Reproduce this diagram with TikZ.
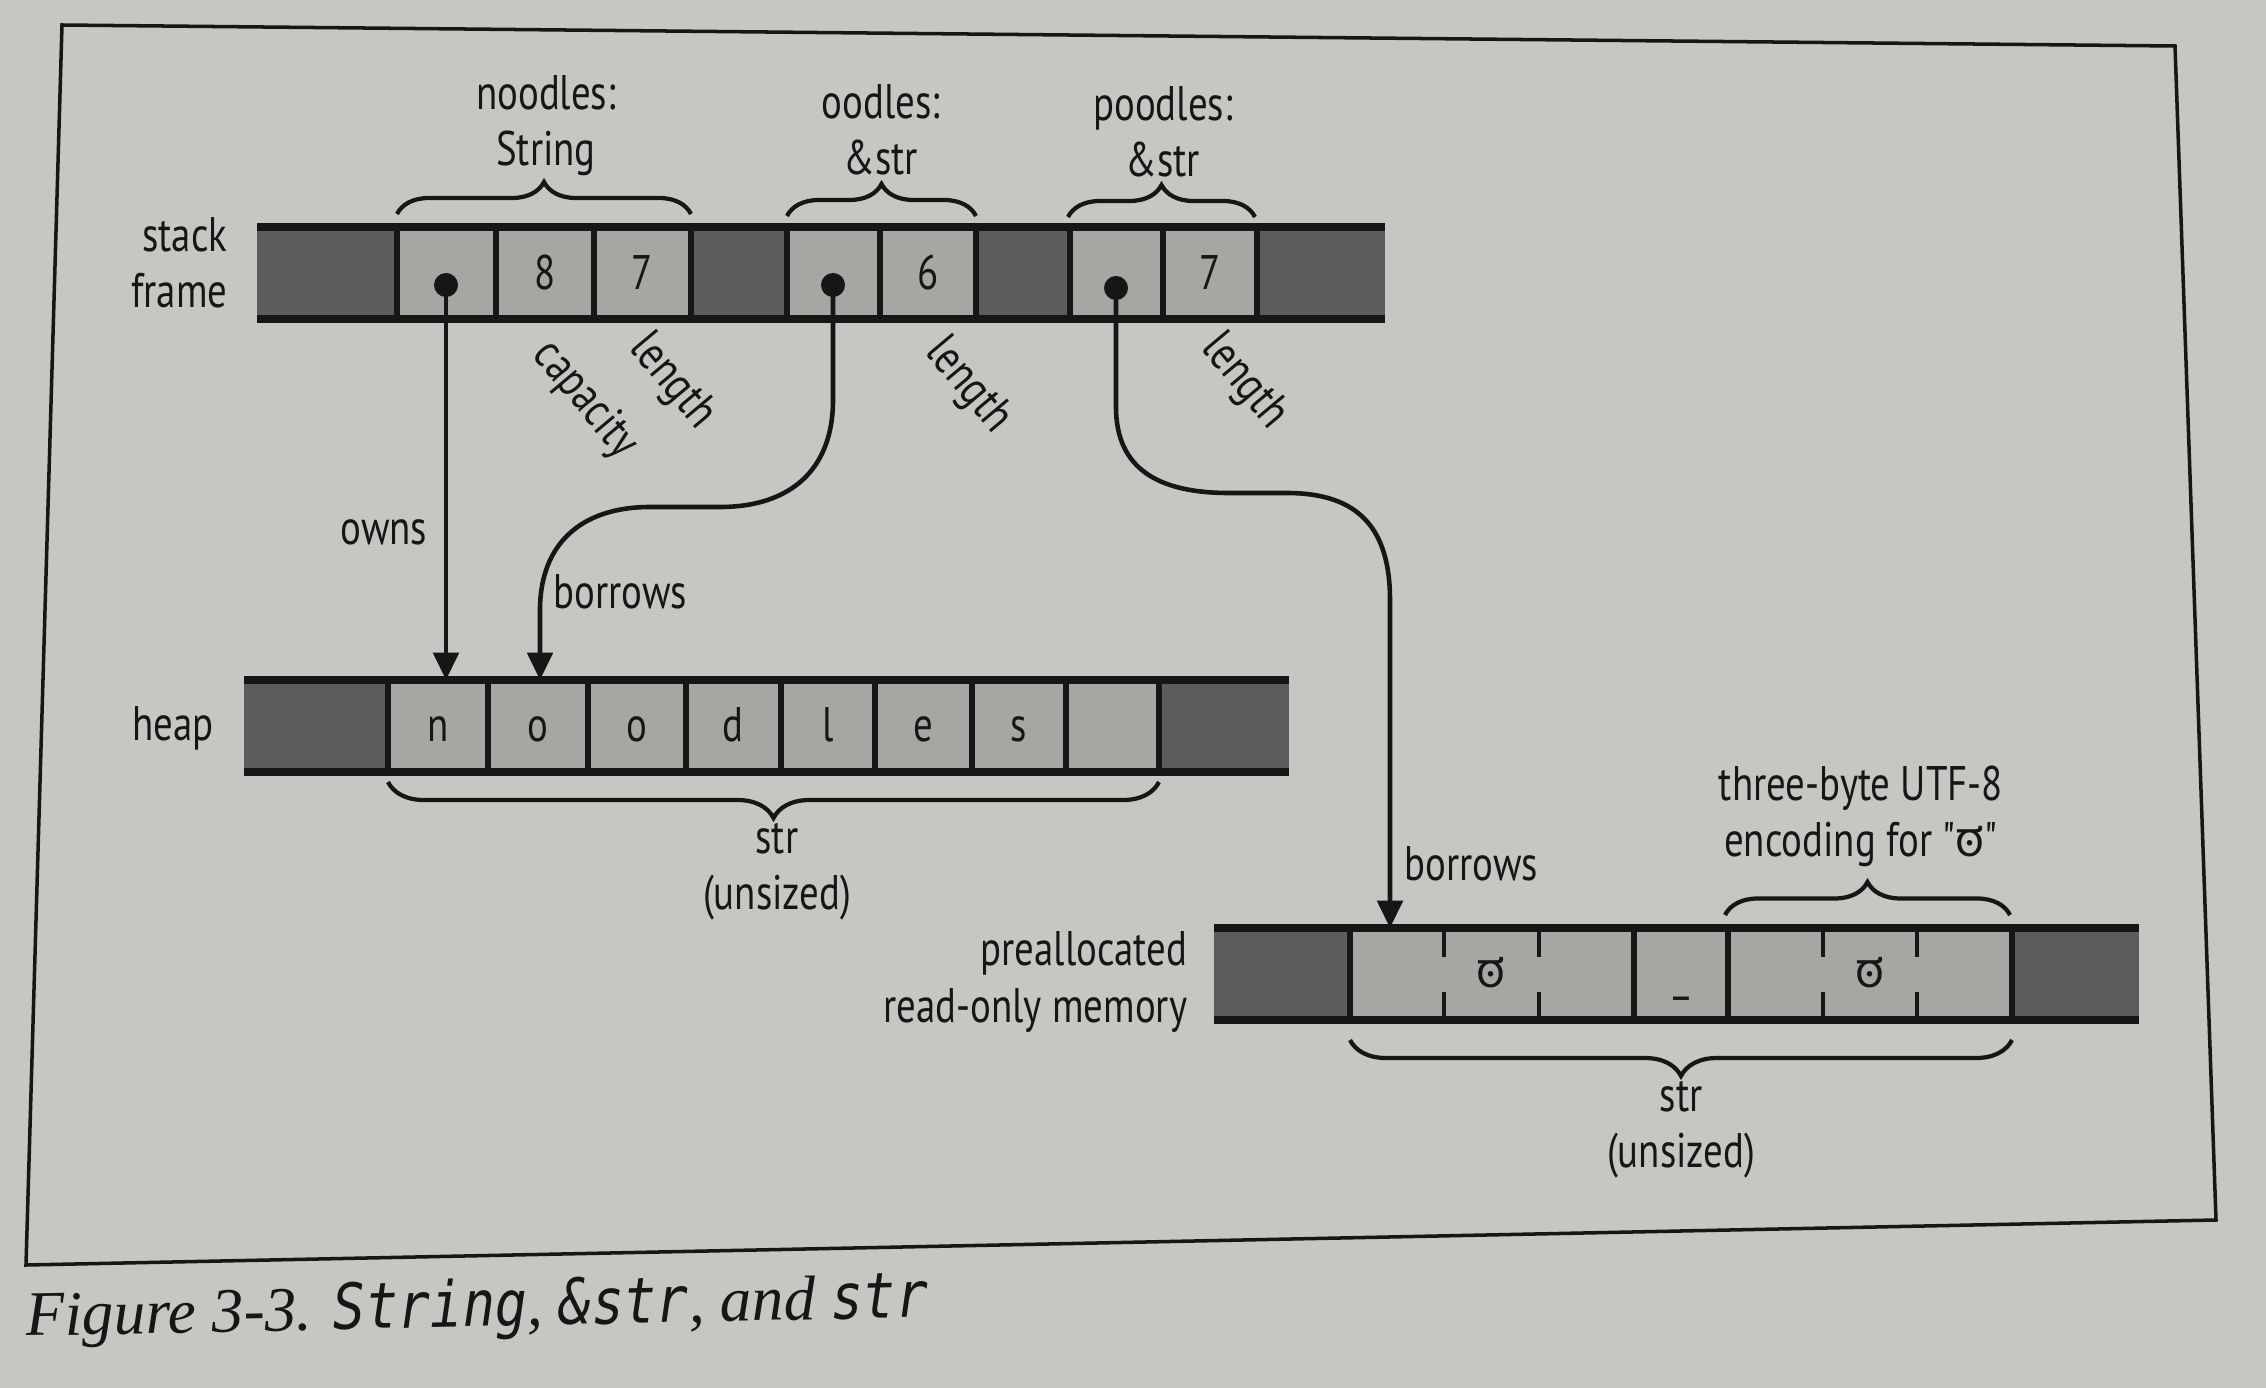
\documentclass[tikz,border=0pt]{standalone}
\usepackage{fontspec}
\setmainfont{PT Sans}[FakeStretch=0.8, Ligatures=TeXOff]
\newfontfamily\kan[Script=Kannada]{Hind Mysuru}
\newfontfamily\capserif{Liberation Serif}
\newfontfamily\capmono{DejaVu Sans Mono}[FakeStretch=0.85]
\usetikzlibrary{arrows.meta,decorations.pathreplacing}
\definecolor{paper}{RGB}{198,198,194}
\definecolor{cellL}{RGB}{166,166,163}
\definecolor{cellD}{RGB}{92,92,92}
\definecolor{ink}{RGB}{22,22,22}
\newcommand\lbl{\fontsize{13.8}{16}\selectfont}
\begin{document}
\begin{tikzpicture}[x=0.01cm,y=-0.01cm,
  every node/.style={text=ink, font=\lbl, inner sep=0pt},
  bar/.style={line width=2pt, draw=ink},
  divider/.style={line width=1.5pt, draw=ink},
  tick/.style={line width=1.4pt, draw=ink},
  arr/.style={line width=1.3pt, draw=ink, -{Triangle[length=7.8pt,width=7.2pt]}},
  brc/.style={decorate, line width=1.2pt, draw=ink},
  dot/.style={circle, fill=ink, minimum size=0.24cm, inner sep=0pt},
  rot/.style={rotate=-50}]
\fill[paper] (0,0) rectangle (2266,1388);
\useasboundingbox (0,0) rectangle (2266,1388);
% frame
\draw[line width=1pt, ink] (62,25) -- (2175,46) -- (2216,1220) -- (26,1265) -- cycle;

% ---------- stack frame ----------
\fill[cellD] (257,227) rectangle (1385,319);
\fill[cellL] (397,227) rectangle (691,319);
\fill[cellL] (787,227) rectangle (976,319);
\fill[cellL] (1070,227) rectangle (1257,319);
\foreach \x in {397,496,594,691,787,880,976,1070,1163,1257}
  \draw[divider] (\x,227) -- (\x,319);
\draw[bar] (257,227) -- (1385,227);
\draw[bar] (257,319) -- (1385,319);
\node (n8) at (545,273) {8};
\node (n7a) at (642,273) {7};
\node (n6) at (928,273) {6};
\node (n7b) at (1210,273) {7};
\node[dot] (p1) at (446,285) {};
\node[dot] (p2) at (833,285) {};
\node[dot] (p3) at (1116,288) {};
\node[anchor=east, align=right] (lstack) at (228,263) {stack\\frame};

% braces and variable names
\draw[brc, decoration={brace, amplitude=0.32cm}] (397,214) -- (691,214);
\draw[brc, decoration={brace, amplitude=0.32cm}] (787,216) -- (976,216);
\draw[brc, decoration={brace, amplitude=0.32cm}] (1068,217) -- (1255,217);
\node[align=center] (vnoodles) at (546,126) {noodles:\\String};
\node[align=center] (voodles) at (881,130) {oodles:\\\&str};
\node[align=center] (vpoodles) at (1163,132) {poodles:\\\&str};

% rotated field labels
\node[rot] (lcap) at (585,400) {capacity};
\node[rot] (llen1) at (672,382) {length};
\node[rot] (llen2) at (968,386) {length};
\node[rot] (llen3) at (1244,382) {length};

% ---------- heap ----------
\fill[cellD] (244,680) rectangle (1289,772);
\fill[cellL] (388,680) rectangle (1159,772);
\foreach \x in {388,488,588,686,781,875,972,1066,1159}
  \draw[divider] (\x,680) -- (\x,772);
\draw[bar] (244,680) -- (1289,680);
\draw[bar] (244,772) -- (1289,772);
\foreach \c/\x [count=\i] in {n/438,o/538,o/637,d/733,l/828,e/923,s/1019}
  \node[anchor=base] (h\i) at (\x,741) {\c};
\node[anchor=east] (lheap) at (214,728) {heap};
\coordinate (hn) at (446,680);
\coordinate (ho) at (540,680);

\draw[brc, decoration={brace, amplitude=0.36cm, mirror}] (388,782) -- (1159,782);
\node[align=center] (hstr) at (777,872) {str\\(unsized)};

% ---------- read-only memory ----------
\fill[cellD] (1214,928) rectangle (2139,1020);
\fill[cellL] (1350,928) rectangle (2012,1020);
\foreach \x in {1350,1634,1728,2012}
  \draw[divider] (\x,928) -- (\x,1020);
\foreach \x in {1444,1539,1823,1917}{
  \draw[tick] (\x,928) -- (\x,957);
  \draw[tick] (\x,992) -- (\x,1020);
}
\draw[bar] (1214,928) -- (2139,928);
\draw[bar] (1214,1020) -- (2139,1020);
\node (r1) at (1491,973) {\kan ಠ};
\node[anchor=base] (r2) at (1681,990) {\_};
\node (r3) at (1870,973) {\kan ಠ};
\node[anchor=east, align=right] (lrom) at (1188,982) {preallocated\\read-only memory};
\coordinate (rtop) at (1390,928);

\draw[brc, decoration={brace, amplitude=0.33cm}] (1725,915) -- (2010,915);
\node[align=center] (lutf) at (1861,816) {three-byte UTF-8\\encoding for "{\kan ಠ}"};
\draw[brc, decoration={brace, amplitude=0.36cm, mirror}] (1350,1040) -- (2012,1040);
\node[align=center] (rstr) at (1681,1130) {str\\(unsized)};

% ---------- connectors ----------
\draw[arr] (p1.center) -- (hn);
\node[anchor=east] (lowns) at (428,532) {owns};
\draw[arr] (p2.center) -- (833,400) .. controls (833,470) and (790,507) .. (720,507)
  -- (650,507) .. controls (580,507) and (540,545) .. (540,610) -- (ho);
\node[anchor=west] (lb1) at (553,592) {borrows};
\draw[arr] (p3.center) -- (1116,407) .. controls (1116,470) and (1160,493) .. (1229,493)
  -- (1287,493) .. controls (1360,493) and (1390,530) .. (1390,600) -- (rtop);
\node[anchor=west] (lb2) at (1404,864) {borrows};

% caption
\node[anchor=base west, rotate=1.2, font=\fontsize{18}{20}\selectfont] (caption) at (26,1336)
  {\capserif\itshape Figure 3-3. {\capmono\itshape String}, {\capmono\itshape \&str}, and {\capmono\itshape str}};
\end{tikzpicture}
\end{document}
